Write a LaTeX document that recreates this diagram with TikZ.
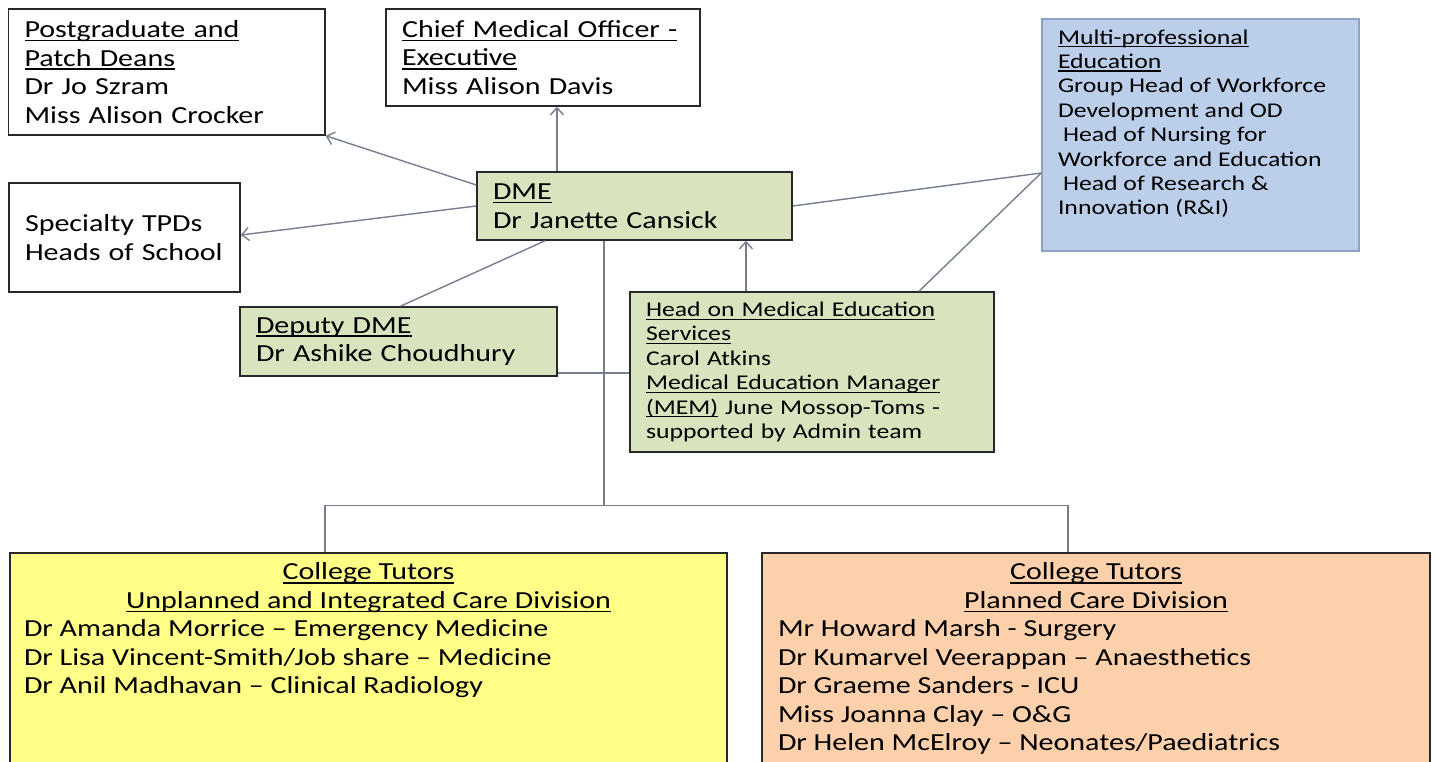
\documentclass[tikz,border=0pt]{standalone}
\usepackage{fontspec}
\setmainfont{Carlito}[FakeStretch=1.225]
\usetikzlibrary{arrows.meta}
\definecolor{boxgreen}{RGB}{215,228,189}
\definecolor{boxblue}{RGB}{188,207,234}
\definecolor{boxblueedge}{RGB}{140,162,195}
\definecolor{boxyellow}{RGB}{255,255,136}
\definecolor{boxpeach}{RGB}{251,208,170}
\definecolor{linkgray}{RGB}{118,126,142}
\definecolor{edgedark}{RGB}{40,40,40}
\setlength\parindent{0pt}
% underline drawn at a fixed depth below the baseline
\newsavebox\ulinebox
\newcommand\undl[1]{\leavevmode\sbox\ulinebox{#1}\rlap{\rule[-0.15em]{\wd\ulinebox}{0.055em}}\usebox\ulinebox}
\begin{document}
\begin{tikzpicture}[x=1pt,y=-1pt,
  box/.style={draw=edgedark, line width=1.6pt, inner xsep=16pt, inner ysep=0pt,
              align=left, font=\fontsize{24.5}{28.5}\selectfont},
  smalltext/.style={font=\fontsize{21}{24.4}\selectfont},
  link/.style={draw=linkgray, line width=1.4pt},
  arr/.style={link, -{Straight Barb[length=7pt,width=13pt,line width=1.4pt]}},
]
\useasboundingbox (0,0) rectangle (1438,762);
\clip (0,0) rectangle (1438,762);

% top row
\node[box, minimum width=316.5pt, minimum height=126pt, text width=284.5pt] (pg) at (166.75,72)
  {\undl{Postgraduate and}\\\undl{Patch Deans}\\Dr Jo Szram\\Miss Alison Crocker};
\node[box, minimum width=314pt, minimum height=97pt, text width=282pt] (cmo) at (543,57.5)
  {\undl{Chief Medical Officer -}\\\undl{Executive}\\Miss Alison Davis};
\node[box, smalltext, draw=boxblueedge, fill=boxblue, inner ysep=8pt] (mpe) at (1200.5,135)
  {\parbox[c][216pt][t]{285pt}{\strut\undl{Multi-professional}\\\undl{Education}\\Group Head of Workforce\\Development and OD\\\hspace*{5pt}Head of Nursing for\\Workforce and Education\\\hspace*{5pt}Head of Research \&\\Innovation (R\&I)}};

% middle
\node[box, fill=boxgreen, minimum width=315pt, minimum height=68pt, text width=283pt] (dme) at (634.5,206)
  {\undl{DME}\\Dr Janette Cansick};
\node[box, minimum width=231pt, minimum height=109pt, text width=199pt] (spec) at (124.5,237.5)
  {Specialty TPDs\\Heads of School};
\node[box, fill=boxgreen, minimum width=317pt, minimum height=69pt, text width=285pt] (dep) at (398.5,341.5)
  {\undl{Deputy DME}\\Dr Ashike Choudhury};
\node[box, smalltext, fill=boxgreen, minimum width=364pt, minimum height=160pt, text width=332pt] (hmes) at (812,372)
  {\undl{Head on Medical Education}\\\undl{Services}\\Carol Atkins\\\undl{Medical Education Manager}\\\undl{(MEM)} June Mossop-Toms -\\supported by Admin team};

% divisions
\node[box, fill=boxyellow, inner xsep=14pt, inner ysep=7pt] (ut) at (368.5,676.5)
  {\parbox[c][233pt][t]{689pt}{\strut\makebox[\hsize]{\undl{College Tutors}}\\
   \makebox[\hsize]{\undl{Unplanned and Integrated Care Division}}\\
   Dr Amanda Morrice – Emergency Medicine\\
   Dr Lisa Vincent-Smith/Job share – Medicine\\
   Dr Anil Madhavan – Clinical Radiology}};
\node[box, fill=boxpeach, inner ysep=7pt] (pc) at (1096,676.5)
  {\parbox[c][233pt][t]{636pt}{\strut\makebox[\hsize]{\undl{College Tutors}}\\
   \makebox[\hsize]{\undl{Planned Care Division}}\\
   Mr Howard Marsh - Surgery\\
   Dr Kumarvel Veerappan – Anaesthetics\\
   Dr Graeme Sanders - ICU\\
   Miss Joanna Clay – O\&G\\
   Dr Helen McElroy – Neonates/Paediatrics}};

% connectors
\coordinate (mpejoin) at ([yshift=-38pt]mpe.west);
\coordinate (bus) at (604,506);
\draw[arr] ([yshift=21pt]dme.west) -- (pg.south east);
\draw[arr] ([xshift=-77.5pt]dme.north) -- ([xshift=14pt]cmo.south);
\draw[arr] (dme.west) -- ([yshift=2.5pt]spec.east);
\draw[link] (dme.east) -- (mpejoin);
\draw[link] ([xshift=107pt]hmes.north) -- (mpejoin);
\draw[arr] ([xshift=-66pt]hmes.north) -- ([xshift=111.5pt]dme.south);
\draw[link] ([xshift=-89.5pt]dme.south) -- ([xshift=2pt]dep.north);
\draw[link] ([yshift=-31.5pt]dep.east) -- ([yshift=-1pt]hmes.west);
\draw[link] ([xshift=-30.5pt]dme.south) -- (bus);
\draw[link] ([xshift=-43.5pt]ut.north) -- ++(0,-47) -| ([xshift=-28pt]pc.north);
\end{tikzpicture}
\end{document}
